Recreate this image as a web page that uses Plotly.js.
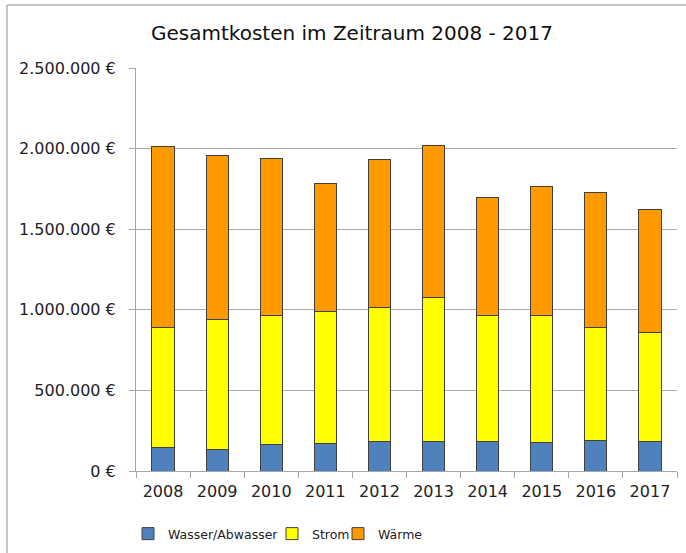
<!DOCTYPE html>
<html><head><meta charset="utf-8">
<script src="https://cdn.plot.ly/plotly-3.0.1.min.js"></script>
<style>html,body{margin:0;padding:0;background:#fff}#chart{width:686px;height:553px}</style>
</head><body><div id="chart"></div>
<script>
var years = ["2008","2009","2010","2011","2012","2013","2014","2015","2016","2017"];
var wasser = [143000,135000,166000,172000,182000,186000,182000,176000,190000,182000];
var strom = [749000,807000,800000,819000,832000,888000,784000,790000,702000,679000];
var waerme = [1118000,1014000,971000,791000,919000,948000,733000,801000,836000,759000];
var seriesNames = ["Wasser/Abwasser","Strom","Wärme"];
var colors = ["#4F81BD","#FFFF00","#FF9900"];
var yTicks = [0,500000,1000000,1500000,2000000,2500000];

function fmt(v){ return String(v).replace(/\B(?=(\d{3})+(?!\d))/g, ".") + " €"; }
var legendIds = ["legend","legend2","legend3"];
var data = [wasser, strom, waerme].map(function(v,i){
  return {type:"bar", x:years, y:v, name:seriesNames[i], legend:legendIds[i],
    marker:{color:colors[i], line:{color:"#404040", width:1}}, width:0.41};
});
var font = "'DejaVu Sans', sans-serif";
var plotL = 136, plotW = 541, plotB = 471, plotH = 403;
function lg(px){ return {orientation:"h", x:(px-plotL)/plotW, xanchor:"left", y:-(534-plotB)/plotH, yanchor:"middle", bgcolor:"rgba(0,0,0,0)", font:{size:12.5, family:font, color:"#222"}}; }
var layout = {
  width:686, height:553, barmode:"stack",
  margin:{l:plotL, r:686-plotL-plotW, t:plotB-plotH, b:553-plotB, autoexpand:false},
  paper_bgcolor:"#fff", plot_bgcolor:"#fff",
  font:{family:font, color:"#222", size:16},
  title:{text:"Gesamtkosten im Zeitraum 2008 - 2017", x:352/686, xanchor:"center", y:1-33/553, yanchor:"middle", font:{size:20, color:"#111", family:font}},
  xaxis:{type:"category", showline:true, linecolor:"#a6a6a6", linewidth:1, ticks:"outside", tickson:"boundaries", ticklen:6, tickcolor:"#a6a6a6", tickfont:{size:16}, showgrid:false, ticklabelstandoff:6},
  yaxis:{range:[0,2500000], tickmode:"array", tickvals:yTicks, ticktext:yTicks.map(fmt), showline:true, linecolor:"#a6a6a6", ticks:"outside", ticklen:6, tickcolor:"#a6a6a6", gridcolor:"#ababab", gridwidth:1, zeroline:false, tickfont:{size:16}, ticklabelstandoff:10},
  showlegend:true,
  legend:lg(128), legend2:lg(272), legend3:lg(338),
  shapes:[{type:"rect", xref:"paper", yref:"paper", x0:(7-plotL)/plotW, x1:(720-plotL)/plotW, y0:-(620-plotB)/plotH, y1:(plotB-5)/plotH, line:{color:"#8c8c8c", width:1}, fillcolor:"rgba(0,0,0,0)", layer:"below"}]
};
Plotly.newPlot("chart", data, layout, {displayModeBar:false, staticPlot:true});
</script></body></html>
